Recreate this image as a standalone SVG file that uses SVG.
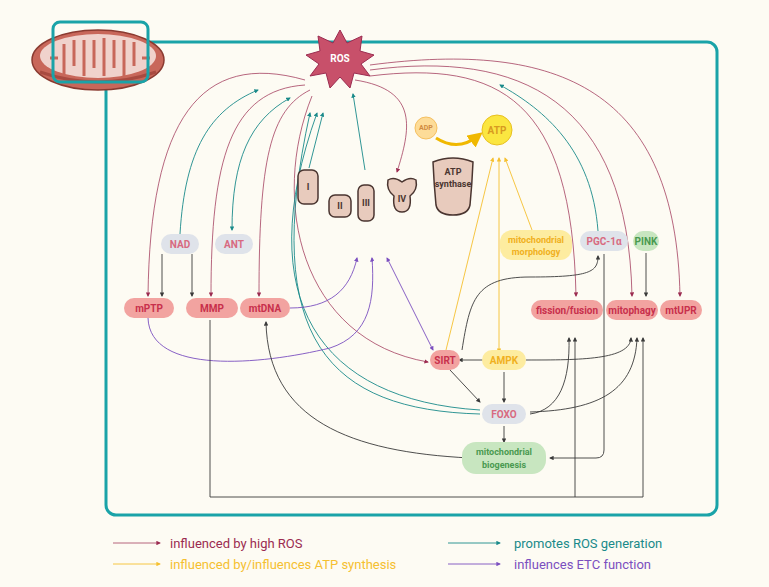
<svg xmlns="http://www.w3.org/2000/svg" width="769" height="587" viewBox="0 0 769 587">
<defs>
<style>
text{font-family:Roboto,"Liberation Sans",sans-serif;font-weight:bold;text-anchor:middle;dominant-baseline:central}
.c{fill:none;stroke-width:0.9}
.m{stroke:#9b2b50;stroke-opacity:0.8;marker-end:url(#am)}
.t{stroke:#1a8a8a;marker-end:url(#at)}
.p{stroke:#7b4fbf;marker-end:url(#ap)}
.y{stroke:#f5c030;marker-end:url(#ay)}
.k{stroke:#3a3a3a;marker-end:url(#ak)}
.red rect{fill:#f2a3a0}.red text{fill:#c8304c;font-size:10px}
.gr rect{fill:#dfe3ea}.gr text{fill:#d86a80;font-size:10px}
.cx{fill:#e8cbbd;stroke:#4a3530;stroke-width:1.5}
.cl{fill:#4a3530;font-size:9px}
.lg{font-weight:normal;text-anchor:start;font-size:13px}
</style>
<marker id="am" markerWidth="5" markerHeight="5" refX="4" refY="2.5" orient="auto"><path d="M0,0L5,2.5L0,5z" fill="#9b2b50"/></marker>
<marker id="at" markerWidth="5" markerHeight="5" refX="4" refY="2.5" orient="auto-start-reverse"><path d="M0,0L5,2.5L0,5z" fill="#1a8a8a"/></marker>
<marker id="ap" markerWidth="5" markerHeight="5" refX="4" refY="2.5" orient="auto-start-reverse"><path d="M0,0L5,2.5L0,5z" fill="#7b4fbf"/></marker>
<marker id="ay" markerWidth="5" markerHeight="5" refX="4" refY="2.5" orient="auto-start-reverse"><path d="M0,0L5,2.5L0,5z" fill="#f5c030"/></marker>
<marker id="ak" markerWidth="5" markerHeight="5" refX="4" refY="2.5" orient="auto"><path d="M0,0L5,2.5L0,5z" fill="#3a3a3a"/></marker>
<marker id="ab" markerWidth="5" markerHeight="5" refX="3" refY="2.5" orient="auto"><path d="M0,0L5,2.5L0,5z" fill="#f0b800"/></marker>
</defs>
<rect width="769" height="587" fill="#fdfbf3"/>
<rect x="106" y="42" width="611" height="473" rx="10" fill="none" stroke="#1aa3a8" stroke-width="3"/>
<g id="mito">
<ellipse cx="98" cy="60" rx="66" ry="30" fill="#c8675a" stroke="#8a3a30" stroke-width="1.5"/>
<ellipse cx="98" cy="56" rx="58" ry="22" fill="#f0d2cc"/>
<path d="M50,58 L58,58 M64,76 L64,44 M74,40 L74,66 M84,76 L84,40 M94,40 L94,68 M104,76 L104,38 M114,40 L114,68 M124,76 L124,40 M134,42 L134,66 M142,58 L150,58" fill="none" stroke="#c8675a" stroke-width="3"/>
<path d="M40,72 Q98,92 156,72" fill="none" stroke="#a84a40" stroke-width="3"/>
<rect x="53" y="22" width="95" height="60" rx="7" fill="none" stroke="#1aa3a8" stroke-width="3"/>
</g>
<g id="connectors">
<path class="c m" d="M305,80 C200,50 150,120 148,296"/>
<path class="c m" d="M305,85 C230,90 211,160 211,296"/>
<path class="c m" d="M310,90 C270,110 259,160 259,296"/>
<path class="c m" d="M355,80 C420,90 410,130 397,172"/>
<path class="c m" d="M370,76 C500,60 572,100 576,296"/>
<path class="c m" d="M370,70 C520,50 628,100 632,296"/>
<path class="c m" d="M370,65 C560,40 676,90 680,296"/>
<path class="c m" d="M312,96 C270,200 300,340 428,362"/>
<path class="c t" d="M180,234 C185,150 210,110 258,90"/>
<path class="c t" marker-start="url(#at)" d="M290,98 C250,120 232,160 232,230"/>
<path class="c t" d="M309,168 L323,113"/>
<path class="c t" d="M365,170 L353,94"/>
<path class="c t" d="M480,414 C330,410 260,340 310,113"/>
<path class="c t" d="M480,410 C320,400 250,300 317,113"/>
<path class="c t" d="M598,231 C592,150 545,110 500,85"/>
<path class="c p" d="M290,308 C330,308 350,290 357,258"/>
<path class="c p" d="M148,318 C150,375 260,365 330,348 C370,335 375,300 372,258"/>
<path class="c p" marker-start="url(#ap)" d="M433,350 L387,258"/>
<path class="c y" d="M446,350 L493,158"/>
<path class="c y" marker-start="url(#ay)" d="M499,352 L499,158"/>
<path class="c y" d="M532,230 L505,158"/>
<path d="M436,138 Q458,152 478,136" fill="none" stroke="#f0b800" stroke-width="3" marker-end="url(#ab)"/>
<path class="c k" d="M162,254 L162,296"/>
<path class="c k" d="M192,254 L192,296"/>
<path class="c k" d="M646,253 L646,296"/>
<path class="c k" d="M488,360 L459,360"/>
<path class="c k" d="M450,370 L480,402"/>
<path class="c k" d="M504,372 L504,402"/>
<path class="c k" d="M504,426 L504,442"/>
<path class="c k" d="M462,350 C470,300 475,277 530,277 C590,277 598,272 598,256"/>
<path class="c k" d="M604,254 L604,450 Q604,458 596,458 L550,458"/>
<path class="c k" d="M470,458 C350,452 268,420 266,322"/>
<path class="c k" d="M210,320 L210,497 L643,497 L643,338"/>
<path class="c k" d="M575,497 L575,338"/>
<path class="c k" d="M530,414 C560,410 570,380 569,338"/>
<path class="c k" d="M530,412 C600,410 635,390 637,338"/>
<path class="c k" d="M526,360 C580,360 630,360 631,338"/>
</g>
<g id="ROS"><polygon points="340,30 347,43 362,36 360,51 374,55 361,64 370,76 354,73 350,88 340,77 330,88 326,73 310,76 319,64 306,55 320,51 318,36 333,43" fill="#c8506a" stroke="#9b2b50"/><text x="340" y="58" fill="#fff" font-size="10">ROS</text></g>
<g id="I"><rect class="cx" x="298" y="170" width="20" height="34" rx="6"/><text class="cl" x="308" y="187">I</text></g>
<g id="II"><rect class="cx" x="329" y="195" width="22" height="22" rx="6"/><text class="cl" x="340" y="206">II</text></g>
<g id="III"><rect class="cx" x="358" y="185" width="16" height="36" rx="6"/><text class="cl" x="366" y="203">III</text></g>
<g id="IV"><path class="cx" d="M388,180 Q394,176 402,182 Q410,176 416,180 Q418,190 410,196 Q412,212 402,212 Q392,212 394,196 Q386,190 388,180z"/><text class="cl" x="402" y="199">IV</text></g>
<g id="ATPsynthase"><path class="cx" d="M433,162 Q453,154 473,162 Q472,185 470,205 Q468,215 453,215 Q438,215 436,205 Q434,185 433,162z"/><text class="cl" x="453" y="172">ATP</text><text class="cl" x="453" y="184">synthase</text></g>
<g id="ADP"><circle cx="426" cy="128" r="11" fill="#fddc98" stroke="#f5c060"/><text x="426" y="128" font-size="7" fill="#d08a40" font-weight="normal">ADP</text></g>
<g id="ATP"><circle cx="497" cy="130" r="15" fill="#fbe640" stroke="#e8c020"/><text x="497" y="130" font-size="10" fill="#d89a20">ATP</text></g>
<g id="NAD" class="gr"><rect x="161" y="234" width="38" height="20" rx="10"/><text x="180" y="244">NAD</text></g>
<g id="ANT" class="gr"><rect x="215" y="234" width="38" height="20" rx="10"/><text x="234" y="244">ANT</text></g>
<g id="PGC" class="gr"><rect x="580" y="231" width="48" height="20" rx="10"/><text x="604" y="241">PGC-1α</text></g>
<g id="FOXO" class="gr"><rect x="482" y="404" width="44" height="20" rx="10"/><text x="504" y="414">FOXO</text></g>
<g id="mPTP" class="red"><rect x="124" y="298" width="50" height="20" rx="10"/><text x="149" y="308">mPTP</text></g>
<g id="MMP" class="red"><rect x="186" y="298" width="52" height="20" rx="10"/><text x="212" y="308">MMP</text></g>
<g id="mtDNA" class="red"><rect x="240" y="298" width="50" height="20" rx="10"/><text x="265" y="308">mtDNA</text></g>
<g id="fission" class="red"><rect x="531" y="300" width="72" height="20" rx="10"/><text x="567" y="310">fission/fusion</text></g>
<g id="mitophagy" class="red"><rect x="606" y="300" width="52" height="20" rx="10"/><text x="632" y="310">mitophagy</text></g>
<g id="mtUPR" class="red"><rect x="660" y="300" width="42" height="20" rx="10"/><text x="681" y="310">mtUPR</text></g>
<g id="SIRT" class="red"><rect x="430" y="350" width="30" height="20" rx="10"/><text x="445" y="360">SIRT</text></g>
<g id="AMPK"><rect x="482" y="350" width="44" height="20" rx="10" fill="#fdeca0"/><text x="504" y="360" font-size="10" fill="#f0b020">AMPK</text></g>
<g id="morph"><rect x="500" y="230" width="72" height="30" rx="12" fill="#fdeca0"/><text x="536" y="240" font-size="9" fill="#f0b020">mitochondrial</text><text x="536" y="252" font-size="9" fill="#f0b020">morphology</text></g>
<g id="PINK"><rect x="633" y="231" width="26" height="20" rx="10" fill="#c8e6c0"/><text x="646" y="241" font-size="10" fill="#4a9a50">PINK</text></g>
<g id="biogenesis"><rect x="462" y="442" width="84" height="32" rx="14" fill="#c8e6c0"/><text x="504" y="452" font-size="9" fill="#4a9a50">mitochondrial</text><text x="504" y="465" font-size="9" fill="#4a9a50">biogenesis</text></g>
<g id="legend">
<path class="c m" d="M113,543 L160,543"/><text class="lg" x="170" y="543" fill="#9b2b50">influenced by high ROS</text>
<path class="c y" d="M113,564 L160,564"/><text class="lg" x="170" y="564" fill="#f5c030">influenced by/influences ATP synthesis</text>
<path class="c t" d="M448,543 L500,543"/><text class="lg" x="514" y="543" fill="#1a8a8a">promotes ROS generation</text>
<path class="c p" d="M448,564 L500,564"/><text class="lg" x="514" y="564" fill="#7b4fbf">influences ETC function</text>
</g>
</svg>
